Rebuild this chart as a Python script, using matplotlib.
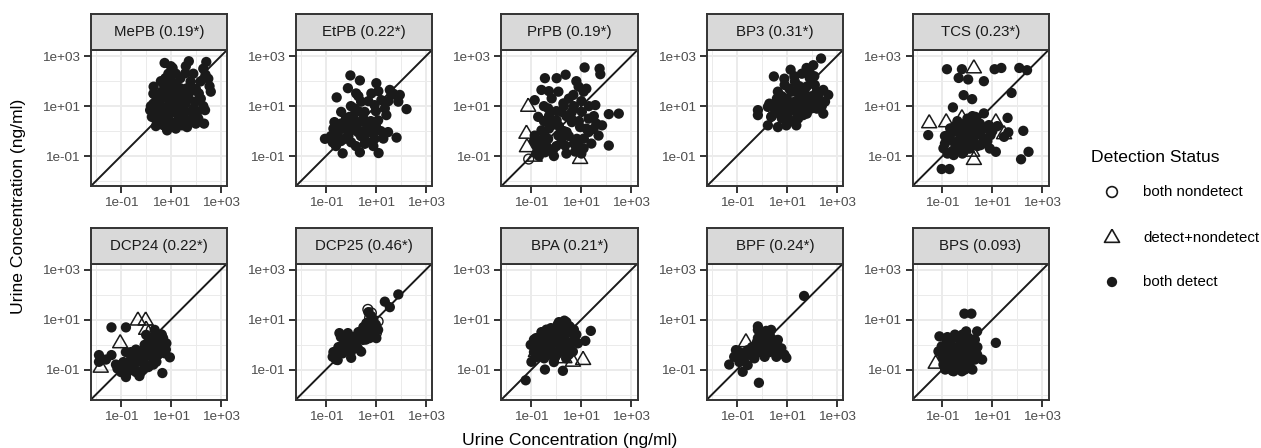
import matplotlib
matplotlib.use("Agg")
import matplotlib.pyplot as plt
from matplotlib.ticker import FixedLocator, FixedFormatter, NullFormatter
import numpy as np

plt.rcParams['font.family'] = ['Liberation Sans', 'DejaVu Sans']

# ---------------- data (log10 of concentrations) ----------------
PANEL_TITLES = ["MePB (0.19*)", "EtPB (0.22*)", "PrPB (0.19*)", "BP3 (0.31*)", "TCS (0.23*)",
                "DCP24 (0.22*)", "DCP25 (0.46*)", "BPA (0.21*)", "BPF (0.24*)", "BPS (0.093)"]

# MePB
MEPB_DET = [(0.75, 2.73), (1.07, 2.53), (1.72, 2.80), (2.42, 2.77), (2.39, 2.26), (2.19, 1.99), (2.60, 1.58),
            (0.31, 1.78), (0.37, 1.45), (2.37, 0.84), (2.33, 0.30), (1.65, 0.16), (0.85, 0.03), (0.24, 0.57),
            (0.17, 0.84), (1.58, 2.32), (1.38, 1.72), (1.18, 1.31), (1.99, 1.18), (2.06, 0.77), (0.91, 0.77),
            (0.64, 0.97), (1.32, 0.57), (1.86, 0.43), (0.58, 0.36), (1.05, 1.85), (0.78, 2.12), (2.12, 1.51),
            (1.79, 1.99), (1.18, 0.36), (0.44, 0.77), (1.45, 0.91), (0.64, 1.58), (0.91, 1.24), (0.98, 1.04),
            (1.11, 0.77), (0.78, 0.57), (1.25, 1.11), (1.59, 0.77), (1.72, 1.31), (0.51, 1.18), (1.05, 1.58),
            (1.38, 2.12), (0.85, 1.72), (1.65, 1.72), (1.92, 0.91), (1.45, 0.23), (0.71, 0.23), (0.37, 0.50),
            (2.55, 1.80), (0.30, 1.10), (0.50, 0.90), (0.60, 1.30), (0.70, 1.90), (0.90, 2.30), (1.00, 2.00),
            (1.20, 1.90), (1.30, 1.50), (1.50, 1.40), (1.60, 1.10), (1.80, 1.60), (2.00, 1.70), (2.20, 1.30),
            (2.30, 1.00), (2.10, 0.50), (1.90, 0.70), (1.70, 0.40), (1.50, 0.60), (1.30, 0.90), (1.10, 1.20),
            (0.90, 0.50), (0.70, 0.70), (0.50, 0.50), (0.40, 0.20), (1.00, 0.20), (1.20, 0.10), (1.40, 0.40),
            (0.80, 1.40), (0.60, 2.00), (1.20, 2.30), (1.60, 2.60), (2.30, 2.50), (2.50, 2.10), (0.30, 1.50),
            (0.20, 1.00), (1.90, 2.30), (2.00, 0.30), (1.00, 2.60), (0.90, 1.00), (1.40, 1.25)]
MEPB_MIX = []
MEPB_ND = []

# EtPB
ETPB_DET = [(-0.02, 2.23), (0.36, 2.03), (1.02, 1.92), (-0.57, 1.35), (-0.12, 1.72), (0.21, 1.51), (0.82, 1.51),
            (1.56, 1.65), (1.96, 1.45), (1.90, 1.18), (2.23, 0.88), (1.42, 0.64), (-0.66, 0.36), (-1.04, -0.31),
            (-0.33, -0.89), (0.36, -0.85), (1.11, -0.88), (1.83, -0.26), (1.49, -0.04), (0.95, -0.31),
            (0.55, -0.51), (0.01, -0.45), (-0.53, -0.18), (-0.26, 0.09), (0.28, -0.04), (0.68, 0.23),
            (1.09, 0.43), (-0.06, 0.57), (0.14, 0.91), (0.55, 0.77), (0.95, 1.04), (1.22, 1.24), (0.41, 1.18),
            (-0.39, 0.77), (0.01, 0.03), (-0.73, -0.45), (0.82, 0.03), (0.35, 0.36), (-0.26, -0.31),
            (1.36, 0.91), (1.63, 1.45), (-0.50, 0.00), (-0.40, 0.30), (-0.20, 0.50), (0.00, 0.30),
            (0.20, 0.10), (0.40, -0.20), (0.60, -0.10), (0.80, 0.40), (1.00, 0.20), (1.20, 0.00),
            (1.30, -0.30), (0.90, -0.60), (0.60, -0.40), (0.20, -0.60), (-0.10, -0.20), (-0.40, -0.40),
            (-0.60, -0.60), (-0.80, -0.20), (-0.70, 0.10), (0.10, 0.60), (0.30, 0.80), (0.50, 0.50),
            (0.70, 1.20), (1.00, 0.80), (1.10, 1.60), (0.30, 1.40), (0.00, 1.00), (-0.20, 0.20),
            (0.50, 0.00), (1.50, 1.20), (1.70, 1.50), (0.90, -0.10)]
ETPB_MIX = []
ETPB_ND = []

# PrPB
PRPB_DET = [(1.13, 2.55), (1.73, 2.50), (1.76, 2.28), (0.37, 2.26), (-0.46, 2.12), (0.01, 2.12), (-0.60, 1.65),
            (-0.87, 1.24), (0.08, 1.58), (0.89, 1.78), (1.09, 1.58), (0.68, 1.45), (1.56, 1.04), (2.50, 0.70),
            (2.10, 0.68), (1.83, 0.23), (1.69, -0.18), (2.10, -0.58), (-0.73, 0.57), (-0.33, 0.91), (0.21, 0.77),
            (0.62, 0.36), (0.95, 0.16), (1.29, -0.04), (0.82, -0.31), (0.75, -0.82), (1.09, -0.69), (0.35, -0.58),
            (-0.12, -0.72), (-0.46, -0.85), (-0.80, -0.58), (-0.87, -0.18), (-0.60, 0.03), (-0.19, 0.23),
            (0.08, -0.18), (0.41, -0.04), (-0.33, -0.31), (0.01, 0.43), (0.28, 1.11), (-0.19, 1.31), (0.62, 0.77),
            (1.29, 0.50), (1.02, 0.77), (1.49, 0.09), (0.21, -0.45), (-0.66, -0.38), (-0.70, -0.40),
            (-0.50, -0.10), (-0.30, 0.10), (-0.10, 0.40), (0.10, 0.20), (0.30, 0.00), (0.50, -0.20),
            (0.70, -0.50), (0.90, -0.60), (1.10, -0.30), (1.20, 0.10), (0.90, 0.40), (0.60, 0.50), (0.40, 0.60),
            (0.20, -0.30), (0.00, -0.60), (-0.20, -0.80), (-0.40, -0.60), (-0.60, -0.80), (-0.80, -0.90),
            (-0.90, -0.40), (-0.50, 0.40), (-0.30, 0.60), (0.00, 0.80), (0.30, 1.00), (0.50, 1.30), (0.70, 1.00),
            (1.00, 1.20), (1.30, 1.00), (1.50, 0.60), (1.60, 0.30), (1.40, -0.50), (1.00, -0.90), (0.40, -0.90),
            (-0.10, -1.00), (-0.70, -1.00), (0.80, 2.00), (-0.30, 1.60), (-0.50, 1.00), (1.20, 1.70)]
PRPB_MIX = [(-1.13, 0.97), (-1.20, -0.11), (-1.18, -0.65), (-0.87, -1.03), (0.95, -1.12)]
PRPB_ND = [(-1.11, -1.12)]

# BP3
BP3_DET = [(2.37, 2.91), (0.48, 2.19), (1.15, 2.46), (1.79, 2.53), (2.06, 2.64), (1.92, 2.12), (2.12, 1.85),
           (2.46, 1.65), (2.66, 1.45), (2.53, 1.18), (2.46, 0.70), (1.65, 0.64), (1.38, 0.23), (0.98, 0.23),
           (0.64, 0.16), (0.24, 0.23), (-0.16, 0.84), (-0.16, 0.64), (0.24, 0.97), (0.37, 0.57), (0.64, 1.58),
           (0.91, 1.85), (1.32, 1.99), (1.59, 1.58), (1.86, 1.31), (1.32, 1.18), (0.91, 1.04), (0.64, 1.11),
           (1.05, 0.77), (1.45, 0.91), (2.12, 1.04), (2.26, 1.45), (0.78, 0.70), (1.18, 1.58), (1.79, 1.78),
           (0.58, 0.84), (1.45, 0.50), (1.99, 0.91), (0.50, 0.90), (0.70, 1.20), (0.80, 1.40), (1.00, 1.30),
           (1.10, 1.10), (1.20, 0.90), (1.00, 0.60), (0.80, 0.50), (1.30, 1.60), (1.50, 1.40), (1.60, 1.20),
           (1.70, 1.00), (1.90, 1.20), (2.00, 1.40), (2.20, 1.60), (2.30, 1.20), (2.40, 1.00), (1.50, 1.80),
           (1.30, 2.20), (1.60, 2.30), (1.90, 2.40), (2.10, 2.20), (0.90, 2.10), (1.10, 1.70), (0.60, 1.30),
           (0.40, 0.60), (1.40, 0.70), (1.80, 0.70), (2.20, 0.90), (1.20, 0.40), (0.90, 0.90), (1.70, 1.60),
           (0.30, 1.10)]
BP3_MIX = []
BP3_ND = []

# TCS
TCS_DET = [(-0.82, 2.48), (-0.22, 2.48), (-0.35, 2.13), (0.03, 2.07), (0.66, 2.00), (1.09, 2.48), (1.36, 2.53),
           (2.08, 2.53), (2.39, 2.44), (1.77, 1.53), (-0.15, 1.44), (0.19, 1.28), (-0.58, 0.95), (-1.57, -0.16),
           (0.66, 0.71), (1.61, 0.53), (1.64, -0.05), (2.24, 0.01), (1.14, -0.83), (2.15, -1.13), (2.45, -0.83),
           (-1.03, -1.52), (-0.72, -1.52), (-0.96, -0.69), (-0.55, -0.96), (-0.15, -0.83), (-0.82, -0.29),
           (-0.55, -0.03), (-0.28, 0.24), (0.12, 0.37), (0.39, 0.11), (0.66, -0.29), (0.26, -0.43),
           (-0.01, -0.16), (-0.42, -0.43), (-0.69, 0.11), (0.53, -0.56), (0.93, -0.16), (-0.08, 0.11),
           (0.19, -0.09), (-0.22, -0.23), (0.05, -0.69), (1.47, -0.23), (0.86, 0.24), (0.32, 0.57),
           (-0.90, -0.50), (-0.70, -0.30), (-0.50, -0.50), (-0.30, -0.30), (-0.10, -0.50), (0.10, -0.30),
           (0.30, -0.20), (0.50, -0.10), (0.70, 0.10), (0.50, 0.30), (0.30, 0.30), (0.10, 0.10), (-0.10, 0.30),
           (-0.30, 0.00), (-0.50, 0.20), (-0.70, -0.10), (-0.90, -0.20), (-0.40, -0.70), (-0.20, -0.90),
           (0.10, -0.70), (0.40, -0.60), (0.80, -0.40), (1.00, 0.00), (-0.60, -0.80), (0.00, 0.50),
           (0.20, 0.60), (-0.40, 0.40), (0.60, -0.50), (-0.80, -0.90), (1.20, 0.20), (0.90, -0.70)]
TCS_MIX = [(0.26, 2.51), (-1.53, 0.31), (-0.85, 0.35), (-0.22, 0.51), (1.14, 0.35), (1.47, -0.13),
           (0.26, -1.16), (0.19, -0.83)]
TCS_ND = []

# DCP24
DCP24_DET = [(-1.38, 0.69), (-0.80, 0.69), (-1.88, -0.42), (-1.88, -0.69), (-1.38, -0.42), (0.35, 0.59),
             (0.69, 0.26), (0.96, -0.51), (0.66, -1.14), (-0.80, -1.30), (-0.26, -1.26), (-0.19, -1.09),
             (-1.00, -0.82), (-0.59, -0.55), (-0.32, -0.28), (-0.05, -0.01), (0.22, 0.19), (0.08, -0.42),
             (-0.46, -0.96), (0.42, -0.28), (0.62, -0.08), (-0.73, -1.09), (0.15, -0.82), (0.42, -0.69),
             (-0.19, -0.69), (-1.14, -0.96), (0.82, 0.05), (0.01, 0.39), (0.76, -0.35), (-0.90, -0.70),
             (-0.70, -0.80), (-0.50, -0.70), (-0.30, -0.50), (-0.10, -0.60), (0.10, -0.40), (0.30, -0.20),
             (0.50, 0.00), (0.70, 0.10), (0.50, -0.40), (0.30, -0.50), (0.10, -0.90), (-0.10, -1.00),
             (-0.40, -1.10), (-0.60, -1.00), (-0.20, -0.30), (0.00, -0.10), (0.20, 0.00), (0.40, 0.30),
             (0.60, 0.40), (0.80, -0.20), (-0.40, -0.20), (-0.80, -0.30), (-0.60, -0.30), (-1.20, -0.80),
             (-1.60, -0.60), (-1.00, -1.10), (0.30, -0.80), (0.10, 0.30)]
DCP24_MIX = [(-0.32, 0.96), (-0.01, 0.96), (-1.03, 0.05), (-1.81, -0.93), (0.01, 0.59)]
DCP24_ND = [(0.22, 0.59), (0.62, 0.39), (0.35, 0.12)]

# DCP25
DCP25_DET = [(1.90, 2.01), (1.36, 1.72), (1.56, 1.50), (-0.46, 0.46), (-0.12, 0.46), (-0.73, -0.49),
             (-0.53, -0.62), (0.01, -0.53), (0.41, -0.28), (0.14, 0.05), (-0.26, -0.08), (-0.33, -0.35),
             (0.48, 0.19), (0.68, 0.53), (0.89, 0.80), (0.62, 0.86), (1.09, 0.59), (1.02, 0.26), (0.82, 1.14),
             (0.75, 0.26), (0.28, 0.32), (-0.06, 0.12), (-0.53, -0.22), (0.28, -0.15), (-0.60, -0.40),
             (-0.40, -0.30), (-0.20, -0.10), (0.00, 0.00), (0.20, 0.10), (0.40, 0.30), (0.60, 0.50),
             (0.80, 0.60), (0.90, 1.00), (0.70, 0.90), (0.50, 0.70), (0.30, 0.50), (0.10, 0.30), (-0.10, 0.20),
             (-0.30, 0.00), (-0.50, -0.10), (-0.70, -0.30), (-0.60, -0.60), (0.60, 0.20), (0.90, 0.40),
             (1.00, 0.80), (0.70, 1.30), (-0.40, 0.30), (0.00, -0.30)]
DCP25_MIX = []
DCP25_ND = [(0.68, 1.41), (0.82, 1.27), (1.09, 0.93), (1.02, 0.46), (0.95, 0.73), (0.75, 1.07)]

# BPA
BPA_DET = [(-1.23, -1.43), (0.32, 0.96), (1.38, 0.55), (1.16, 0.15), (0.26, -1.05), (-0.46, -1.00),
           (-1.00, -0.69), (-1.03, -0.01), (-0.82, 0.26), (-0.49, 0.39), (-0.22, 0.66), (0.05, 0.80),
           (0.53, 0.73), (0.73, 0.26), (0.86, 0.05), (0.53, -0.15), (0.19, -0.28), (-0.08, -0.55),
           (-0.49, -0.55), (-0.76, -0.28), (-0.35, -0.01), (-0.01, 0.26), (0.32, 0.26), (0.12, -0.01),
           (-0.15, -0.28), (-0.62, -0.01), (0.39, -0.55), (0.66, -0.28), (0.19, 0.53), (-0.28, 0.26),
           (-0.90, 0.20), (-0.70, 0.00), (-0.50, 0.10), (-0.30, 0.40), (-0.10, 0.50), (0.10, 0.60),
           (0.30, 0.70), (0.50, 0.50), (0.70, 0.60), (0.60, 0.10), (0.40, 0.00), (0.20, -0.10), (0.00, 0.10),
           (-0.20, 0.00), (-0.40, -0.20), (-0.60, -0.40), (-0.80, -0.50), (-0.30, -0.40), (0.00, -0.40),
           (0.30, -0.30), (0.50, -0.40), (-0.10, -0.70), (-0.60, 0.50), (0.10, 0.90), (0.40, 0.90),
           (-0.40, 0.60), (0.80, 0.40), (-0.90, -0.30)]
BPA_MIX = [(1.07, -0.62), (0.66, -0.69), (0.32, -0.55), (-0.82, -0.30)]
BPA_ND = []

# BPF
BPF_DET = [(1.69, 1.95), (-0.16, 0.73), (-0.16, 0.59), (0.17, 0.55), (0.37, 0.59), (-0.12, -1.53),
           (-1.31, -0.80), (-0.77, -1.09), (-1.04, -0.22), (-1.11, -0.49), (-0.84, -0.55), (-0.57, -0.82),
           (-0.43, -0.42), (-0.23, -0.15), (-0.03, 0.05), (0.24, -0.15), (0.51, -0.01), (0.64, 0.19),
           (0.78, -0.15), (0.98, -0.53), (0.58, -0.49), (0.11, -0.49), (-0.30, -0.55), (-0.57, -0.22),
           (0.11, 0.26), (0.37, 0.26), (-0.16, 0.26), (-0.70, -0.35), (-0.90, -0.30), (-0.70, -0.50),
           (-0.50, -0.40), (-0.30, -0.30), (-0.10, -0.30), (0.10, -0.30), (0.30, -0.30), (0.50, -0.30),
           (0.70, -0.30), (0.90, -0.40), (0.40, 0.10), (0.20, 0.10), (0.00, 0.00), (-0.20, 0.10),
           (-0.40, -0.10), (-1.00, -0.40), (-0.90, -0.70), (0.00, 0.40), (0.30, 0.40), (0.60, 0.10)]
BPF_MIX = [(-0.64, 0.09)]
BPF_ND = []

# BPS
BPS_DET = [(-0.12, 1.24), (0.16, 1.24), (1.14, 0.07), (-1.12, 0.33), (0.39, 0.53), (-0.05, 0.53), (0.59, -0.60),
           (-1.16, -0.27), (-0.89, -1.00), (-0.55, -1.07), (-0.22, -1.07), (-0.82, 0.13), (-0.55, 0.27),
           (-0.28, 0.20), (0.05, 0.27), (0.26, 0.00), (0.39, -0.40), (0.12, -0.67), (-0.15, -0.80),
           (-0.49, -0.80), (-0.76, -0.67), (-0.89, -0.40), (-1.03, -0.07), (-0.62, -0.27), (-0.35, -0.40),
           (-0.08, -0.33), (0.12, -0.13), (-0.35, -0.07), (-0.69, 0.00), (-0.01, -0.53), (-0.42, -0.60),
           (0.19, -0.40), (-0.69, -0.93), (-0.96, -0.80), (-1.00, -0.50), (-0.80, -0.20), (-0.60, -0.50),
           (-0.40, -0.20), (-0.20, -0.50), (0.00, -0.20), (0.20, -0.20), (0.30, -0.60), (0.10, -0.90),
           (-0.10, -1.00), (-0.30, -0.90), (-0.50, -0.90), (-0.70, -0.80), (-0.90, -0.90), (-0.80, -0.60),
           (-0.60, -0.10), (-0.30, 0.00), (-0.10, 0.10), (0.10, 0.10), (0.30, 0.20), (-0.20, 0.40),
           (-0.50, 0.40), (-0.80, 0.30), (0.40, -0.10), (0.00, -0.70), (-0.40, -0.70), (0.20, -1.00),
           (-0.60, -1.05)]
BPS_MIX = [(-1.27, -0.77)]
BPS_ND = []

PANEL_DATA = [
    (MEPB_DET, MEPB_MIX, MEPB_ND), (ETPB_DET, ETPB_MIX, ETPB_ND), (PRPB_DET, PRPB_MIX, PRPB_ND),
    (BP3_DET, BP3_MIX, BP3_ND), (TCS_DET, TCS_MIX, TCS_ND), (DCP24_DET, DCP24_MIX, DCP24_ND),
    (DCP25_DET, DCP25_MIX, DCP25_ND), (BPA_DET, BPA_MIX, BPA_ND), (BPF_DET, BPF_MIX, BPF_ND),
    (BPS_DET, BPS_MIX, BPS_ND),
]

MAJOR_TICKS = [1e-1, 1e1, 1e3]
TICK_LABELS = ["1e-01", "1e+01", "1e+03"]
MINOR_TICKS = [1e-2, 1e0, 1e2]
LEGEND_LABELS = ["both nondetect", "detect+nondetect", "both detect"]

# ---------------- layout ----------------
W, H = 1261, 448
fig = plt.figure(figsize=(W / 100, H / 100), dpi=100)

INK = '#1a1a1a'
BORDER = '#333333'
GRID = '#ebebeb'
TRI = [(0.0, 1.0), (0.866, -0.5), (-0.866, -0.5), (0.0, 1.0)]
DOT_S = 55


def rect(left, top, w, h):
    return [left / W, 1 - (top + h) / H, w / W, h / H]


col_left = [91, 296, 501.5, 707, 912.5]
row_top = [50, 263.5]
PW, PH, SH = 136, 136, 36
LIM = (10 ** -2.2, 10 ** 3.25)


def to_xy(pts):
    if not pts:
        return np.array([]), np.array([])
    a = np.array(pts, dtype=float)
    return 10 ** a[:, 0], 10 ** a[:, 1]


for i, (title, (det, mix, nd)) in enumerate(zip(PANEL_TITLES, PANEL_DATA)):
    r, c = divmod(i, 5)
    ax = fig.add_axes(rect(col_left[c], row_top[r], PW, PH))
    ax.set_xscale('log')
    ax.set_yscale('log')
    ax.set_xlim(*LIM)
    ax.set_ylim(*LIM)
    for axis in (ax.xaxis, ax.yaxis):
        axis.set_major_locator(FixedLocator(MAJOR_TICKS))
        axis.set_major_formatter(FixedFormatter(TICK_LABELS))
        axis.set_minor_locator(FixedLocator(MINOR_TICKS))
        axis.set_minor_formatter(NullFormatter())
    ax.grid(True, which='major', color=GRID, lw=1.4)
    ax.grid(True, which='minor', color=GRID, lw=0.7)
    ax.set_axisbelow(True)
    ax.tick_params(which='major', length=5, width=1.4, color=BORDER, labelsize=9.7,
                   labelcolor='#4d4d4d', pad=3)
    ax.tick_params(which='minor', length=0)
    for s in ax.spines.values():
        s.set_color(BORDER)
        s.set_linewidth(1.4)
        s.set_zorder(5)

    ax.axline((1, 1), (10, 10), color=INK, lw=1.4, zorder=1.5)

    x, y = to_xy(det)
    ax.scatter(x, y, s=DOT_S, marker='o', color=INK, edgecolors='none', zorder=2)
    x, y = to_xy(mix)
    if len(x):
        ax.scatter(x, y, s=156, marker=TRI, facecolors='none', edgecolors=INK, linewidths=1.1, zorder=3)
    x, y = to_xy(nd)
    if len(x):
        ax.scatter(x, y, s=50, marker='o', facecolors='none', edgecolors=INK, linewidths=1.0, zorder=3)

    # strip
    sax = fig.add_axes(rect(col_left[c], row_top[r] - SH, PW, SH))
    sax.set_facecolor('#d9d9d9')
    sax.set_xticks([])
    sax.set_yticks([])
    for s in sax.spines.values():
        s.set_color(BORDER)
        s.set_linewidth(1.4)
    sax.text(0.5, 0.5, title, ha='center', va='center', fontsize=10.8, color=INK,
             transform=sax.transAxes)

# axis titles
fig.text(570 / W, 1 - 440 / H, "Urine Concentration (ng/ml)", ha='center', va='center',
         fontsize=12.6, color='black')
fig.text(19 / W, 1 - 206 / H, "Urine Concentration (ng/ml)", ha='center', va='center',
         rotation=90, fontsize=12.6, color='black')

# legend
lax = fig.add_axes([0, 0, 1, 1], facecolor='none')
lax.set_xlim(0, W)
lax.set_ylim(H, 0)
lax.axis('off')
lax.text(1091, 157, "Detection Status", ha='left', va='center', fontsize=12.6, color='black')
key_y = [192, 238, 282]
lax.scatter([1112], [key_y[0]], s=60, marker='o', facecolors='none', edgecolors=INK, linewidths=1.2)
lax.scatter([1112], [key_y[1]], s=156, marker=TRI, facecolors='none', edgecolors=INK, linewidths=1.2)
lax.scatter([1112], [key_y[2]], s=DOT_S, marker='o', color=INK, edgecolors='none')
for yy, lab in zip(key_y, LEGEND_LABELS):
    lax.text(1143, yy, lab, ha='left', va='center', fontsize=10.8, color='black')

fig.savefig("out.png", dpi=100)
